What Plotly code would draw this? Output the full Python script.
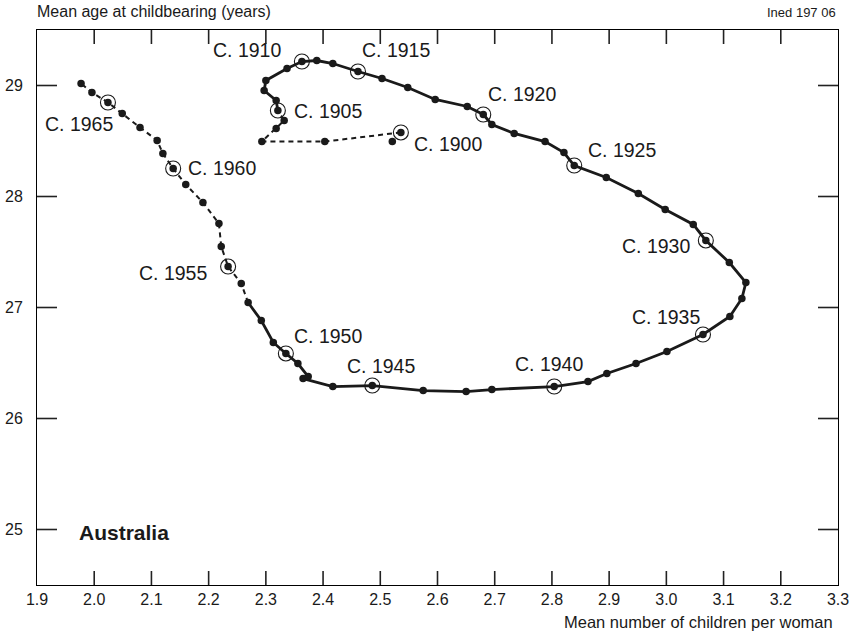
import plotly.graph_objects as go

# Australia, birth cohorts 1900-1967: completed fertility vs mean age at childbearing
tfr = [2.536, 2.403, 2.293, 2.318, 2.332, 2.321, 2.318, 2.297, 2.300, 2.337,
       2.363, 2.389, 2.417, 2.461, 2.503, 2.548, 2.596, 2.652, 2.680, 2.695,
       2.734, 2.788, 2.821, 2.839, 2.895, 2.951, 2.998, 3.047, 3.069, 3.110,
       3.139, 3.132, 3.111, 3.064, 3.001, 2.947, 2.896, 2.863, 2.804, 2.695,
       2.650, 2.575, 2.486, 2.417, 2.365, 2.374, 2.356, 2.335, 2.313, 2.292,
       2.269, 2.257, 2.234, 2.222, 2.218, 2.190, 2.160, 2.138, 2.120, 2.110,
       2.080, 2.049, 2.024, 1.996, 1.977]
mab = [28.577, 28.495, 28.495, 28.613, 28.685, 28.775, 28.865, 28.955, 29.045, 29.153,
       29.216, 29.225, 29.198, 29.126, 29.063, 28.982, 28.874, 28.811, 28.739, 28.649,
       28.568, 28.495, 28.396, 28.279, 28.171, 28.027, 27.883, 27.748, 27.604, 27.405,
       27.225, 27.081, 26.919, 26.757, 26.604, 26.495, 26.405, 26.333, 26.288, 26.261,
       26.243, 26.252, 26.297, 26.288, 26.360, 26.378, 26.495, 26.586, 26.685, 26.883,
       27.045, 27.216, 27.369, 27.550, 27.757, 27.946, 28.108, 28.252, 28.387, 28.505,
       28.622, 28.748, 28.847, 28.937, 29.018]

# isolated early estimate near the 1900 cohort
extra_tfr = [2.521]
extra_mab = [28.495]

# circled cohorts: index into the path and their labels
marked_idx = [0, 5, 10, 13, 18, 23, 28, 33, 38, 42, 47, 52, 57, 62]
marked_year = [1900, 1905, 1910, 1915, 1920, 1925, 1930, 1935, 1940, 1945,
               1950, 1955, 1960, 1965]

# observed (solid) portion of the path; the ends are dashed
solid_start, solid_end = 5, 50

x_ticks = [1.9, 2.0, 2.1, 2.2, 2.3, 2.4, 2.5, 2.6, 2.7, 2.8, 2.9, 3.0, 3.1, 3.2, 3.3]
y_ticks = [25, 26, 27, 28, 29]

FONT = "Liberation Sans, Arial, Helvetica, sans-serif"
INK = "#1a1a1a"

fig = go.Figure()

# dashed early section
fig.add_trace(go.Scatter(
    x=tfr[:solid_start + 1], y=mab[:solid_start + 1], mode="lines",
    line=dict(color=INK, width=2, dash="5px,4px"), hoverinfo="skip"))
# solid section
fig.add_trace(go.Scatter(
    x=tfr[solid_start:solid_end + 1], y=mab[solid_start:solid_end + 1], mode="lines",
    line=dict(color=INK, width=2.8), hoverinfo="skip"))
# dashed recent section
fig.add_trace(go.Scatter(
    x=tfr[solid_end:], y=mab[solid_end:], mode="lines",
    line=dict(color=INK, width=2, dash="5px,4px"), hoverinfo="skip"))

# cohort dots
fig.add_trace(go.Scatter(
    x=tfr + extra_tfr, y=mab + extra_mab, mode="markers",
    marker=dict(color=INK, size=7.5, line=dict(width=0)), hoverinfo="skip"))

# rings around the quinquennial cohorts
fig.add_trace(go.Scatter(
    x=[tfr[i] for i in marked_idx], y=[mab[i] for i in marked_idx], mode="markers",
    marker=dict(symbol="circle-open", color=INK, size=15, line=dict(width=1.1)),
    hoverinfo="skip"))

# label offsets (pixels) relative to each circled cohort
offsets = {
    1900: (47, -12), 1905: (50, -1), 1910: (-55, 12), 1915: (38, 22),
    1920: (39, 20), 1925: (48, 16), 1930: (-50, -6), 1935: (-37, 17),
    1940: (-5, 23), 1945: (9, 20), 1950: (42, 17), 1955: (-55, -6),
    1960: (49, 1), 1965: (-29, -22),
}
for i, yr in zip(marked_idx, marked_year):
    dx, dy = offsets[yr]
    fig.add_annotation(
        x=tfr[i], y=mab[i], text=f"C. {yr}", showarrow=False,
        xshift=dx, yshift=dy, xanchor="center", yanchor="middle",
        font=dict(family=FONT, size=19.5, color=INK))

fig.add_annotation(
    xref="paper", yref="paper", x=0.05, y=0.095, text="<b>Australia</b>",
    showarrow=False, xanchor="left", yanchor="middle",
    font=dict(family=FONT, size=21, color=INK))
fig.add_annotation(
    xref="paper", yref="paper", x=-0.003, y=1.033, text="Mean age at childbearing (years)",
    showarrow=False, xanchor="left", yanchor="middle",
    font=dict(family=FONT, size=16, color=INK))
fig.add_annotation(
    xref="paper", yref="paper", x=1, y=1.031, text="Ined 197 06",
    showarrow=False, xanchor="right", yanchor="middle",
    font=dict(family=FONT, size=13, color=INK))
fig.add_annotation(
    xref="paper", yref="paper", x=0.996, y=-0.066, text="Mean number of children per woman",
    showarrow=False, xanchor="right", yanchor="middle",
    font=dict(family=FONT, size=16.5, color=INK))

# inward tick marks on all four sides of the frame
for v in x_ticks[1:-1]:
    for anchor, sign in ((0, 1), (1, -1)):
        fig.add_shape(type="line", xref="x", yref="paper", x0=v, x1=v,
                      ysizemode="pixel", yanchor=anchor, y0=0, y1=14 * sign,
                      line=dict(color="#222", width=1.6))
for v in y_ticks:
    for anchor, sign in ((0, 1), (1, -1)):
        fig.add_shape(type="line", yref="y", xref="paper", y0=v, y1=v,
                      xsizemode="pixel", xanchor=anchor, x0=0, x1=20 * sign,
                      line=dict(color="#222", width=1.6))

fig.update_xaxes(
    range=[1.9, 3.3], tickvals=x_ticks, ticktext=[f"{v:.1f}" for v in x_ticks],
    ticks="", showline=True, linecolor="black", linewidth=1, mirror=True,
    showgrid=False, zeroline=False, automargin=False,
    tickfont=dict(family=FONT, size=16, color=INK))
fig.update_yaxes(
    range=[24.5, 29.5], tickvals=y_ticks, ticklabelstandoff=10,
    ticks="", showline=True, linecolor="black", linewidth=1, mirror=True,
    showgrid=False, zeroline=False, automargin=False,
    tickfont=dict(family=FONT, size=16, color=INK))

fig.update_layout(
    width=853, height=636, showlegend=False,
    margin=dict(l=37, r=15, t=30, b=51),
    paper_bgcolor="white", plot_bgcolor="white",
    font=dict(family=FONT, color=INK))

fig.write_html("out.html")
